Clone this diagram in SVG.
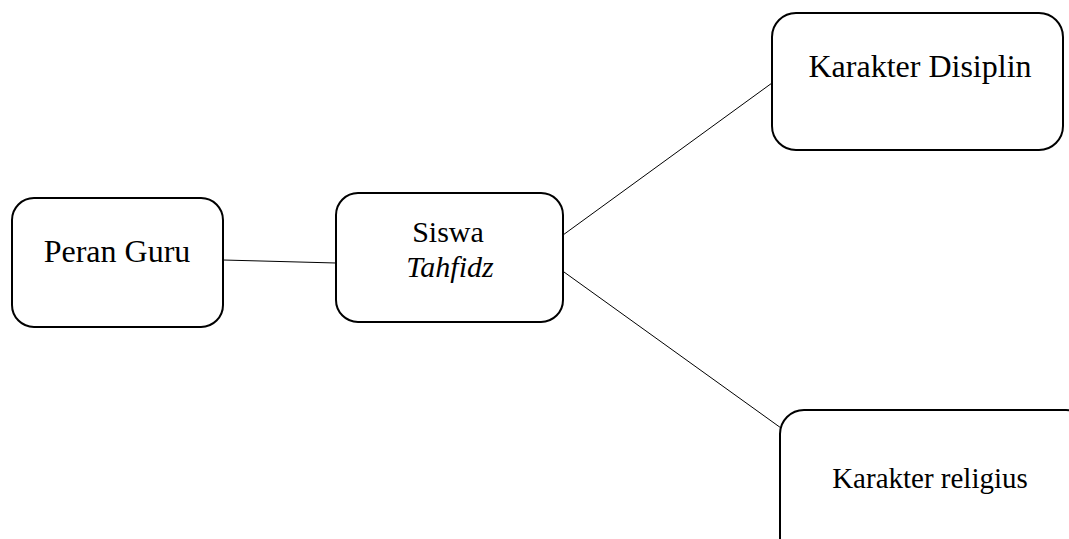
<svg xmlns="http://www.w3.org/2000/svg" width="1069" height="539" viewBox="0 0 1069 539">
<style>
.box{fill:#fff;stroke:#000;stroke-width:2}
.t{font-family:"Liberation Serif","Times New Roman",serif;fill:#000;text-anchor:middle}
.c{stroke:#000;stroke-width:1;fill:none}
</style>
<rect width="1069" height="539" fill="#fff"/>
<g id="connectors">
<line class="c" x1="223" y1="260" x2="336" y2="263"/>
<line class="c" x1="563" y1="235" x2="772" y2="83"/>
<line class="c" x1="564" y1="272" x2="781" y2="428"/>
</g>
<g id="peran-guru">
<rect class="box" x="12" y="198" width="211" height="129" rx="22"/>
<text class="t" x="117" y="262" font-size="32">Peran Guru</text>
</g>
<g id="siswa">
<rect class="box" x="336" y="193" width="227" height="129" rx="22"/>
<text class="t" x="448" y="242" font-size="30">Siswa</text>
<text class="t" x="450" y="277" font-size="30" font-style="italic">Tahfidz</text>
</g>
<g id="disiplin">
<rect class="box" x="772" y="13" width="291" height="137" rx="24"/>
<text class="t" x="920" y="77" font-size="32">Karakter Disiplin</text>
</g>
<g id="religius">
<rect class="box" x="780" y="410" width="310" height="160" rx="24"/>
<text class="t" x="930" y="488" font-size="29">Karakter religius</text>
</g>
</svg>
